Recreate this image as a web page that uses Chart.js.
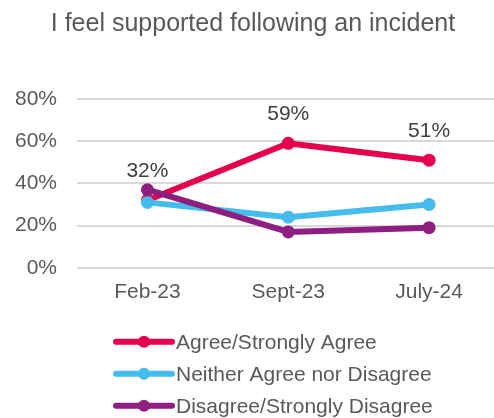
<!DOCTYPE html>
<html>
<head>
<meta charset="utf-8">
<script src="https://cdn.jsdelivr.net/npm/chart.js@4/dist/chart.umd.min.js"></script>
<style>
  html, body { margin: 0; padding: 0; background: #fff; overflow: hidden; }
  /* plot is a touch wider than the window so the gridlines run off the right edge */
  #wrap { width: 506px; height: 418px; }
</style>
</head>
<body>
<div id="wrap"><canvas id="chart"></canvas></div>
<script>
const titleText = 'I feel supported following an incident';
const periods = ['Feb-23', 'Sept-23', 'July-24'];
const agree = [32, 59, 51];
const neither = [31, 24, 30];
const disagree = [37, 17, 19];
const seriesNames = ['Agree/Strongly Agree', 'Neither Agree nor Disagree', 'Disagree/Strongly Disagree'];
const seriesColors = ['#E5004F', '#45BCEB', '#8E1E80'];
const yTicks = [0, 20, 40, 60, 80];

const textGrey = '#595959';
const fontFamily = 'Arial, "Liberation Sans", sans-serif';

function makeSet(i, values, order) {
    return {
        label: seriesNames[i],
        data: values,
        borderColor: seriesColors[i],
        backgroundColor: seriesColors[i],
        borderWidth: 6,
        pointRadius: 6.5,
        pointHoverRadius: 6.5,
        pointBorderWidth: 0,
        tension: 0,
        order: order
    };
}

// percentage labels above the "agree" points only
const valueLabels = {
    id: 'valueLabels',
    afterDatasetsDraw(chart) {
        const ctx = chart.ctx;
        const meta = chart.getDatasetMeta(0);
        ctx.save();
        ctx.font = '21px ' + fontFamily;
        ctx.fillStyle = '#404040';
        ctx.textAlign = 'center';
        ctx.textBaseline = 'middle';
        meta.data.forEach((pt, i) => {
            ctx.fillText(chart.data.datasets[0].data[i] + '%', pt.x, pt.y - 29);
        });
        ctx.restore();
    }
};

// stacked legend under the axis: line sample with a dot, then the name
const lineLegend = {
    id: 'lineLegend',
    afterDraw(chart) {
        const ctx = chart.ctx;
        const x0 = 116, sampleW = 56;
        let y = chart.chartArea.bottom + 74;
        ctx.save();
        ctx.font = '21px ' + fontFamily;
        ctx.textBaseline = 'middle';
        ctx.textAlign = 'left';
        chart.data.datasets.forEach(ds => {
            ctx.strokeStyle = ds.borderColor;
            ctx.lineWidth = 6;
            ctx.lineCap = 'round';
            ctx.beginPath();
            ctx.moveTo(x0, y);
            ctx.lineTo(x0 + sampleW, y);
            ctx.stroke();
            ctx.fillStyle = ds.borderColor;
            ctx.beginPath();
            ctx.arc(x0 + sampleW / 2, y, 6, 0, Math.PI * 2);
            ctx.fill();
            ctx.fillStyle = textGrey;
            ctx.fillText(ds.label, x0 + sampleW + 4, y + 1);
            y += 32;
        });
        ctx.restore();
    }
};

new Chart(document.getElementById('chart'), {
    type: 'line',
    data: {
        labels: periods,
        datasets: [
            makeSet(0, agree, 3),
            makeSet(1, neither, 2),
            makeSet(2, disagree, 1)
        ]
    },
    options: {
        responsive: true,
        maintainAspectRatio: false,
        animation: false,
        events: [],
        layout: { padding: { left: 0, right: 0, top: 0, bottom: 101 } },
        plugins: {
            legend: { display: false },
            tooltip: { enabled: false },
            title: {
                display: true,
                text: titleText,
                color: textGrey,
                font: { size: 25, family: fontFamily, weight: 'normal' },
                padding: { top: 9, bottom: 60 }
            }
        },
        scales: {
            x: {
                offset: true,
                grid: { display: false, drawTicks: false },
                border: { display: false },
                ticks: {
                    color: textGrey,
                    font: { size: 21, family: fontFamily },
                    padding: 12
                }
            },
            y: {
                min: 0,
                max: 80,
                afterFit(scale) { scale.width = 77; },
                afterBuildTicks(scale) { scale.ticks = yTicks.map(v => ({ value: v })); },
                grid: { color: '#D9D9D9', lineWidth: 2, drawTicks: false },
                border: { display: false },
                ticks: {
                    color: textGrey,
                    font: { size: 21, family: fontFamily },
                    padding: 20,
                    callback: v => v + '%'
                }
            }
        }
    },
    plugins: [valueLabels, lineLegend]
});
</script>
</body>
</html>
